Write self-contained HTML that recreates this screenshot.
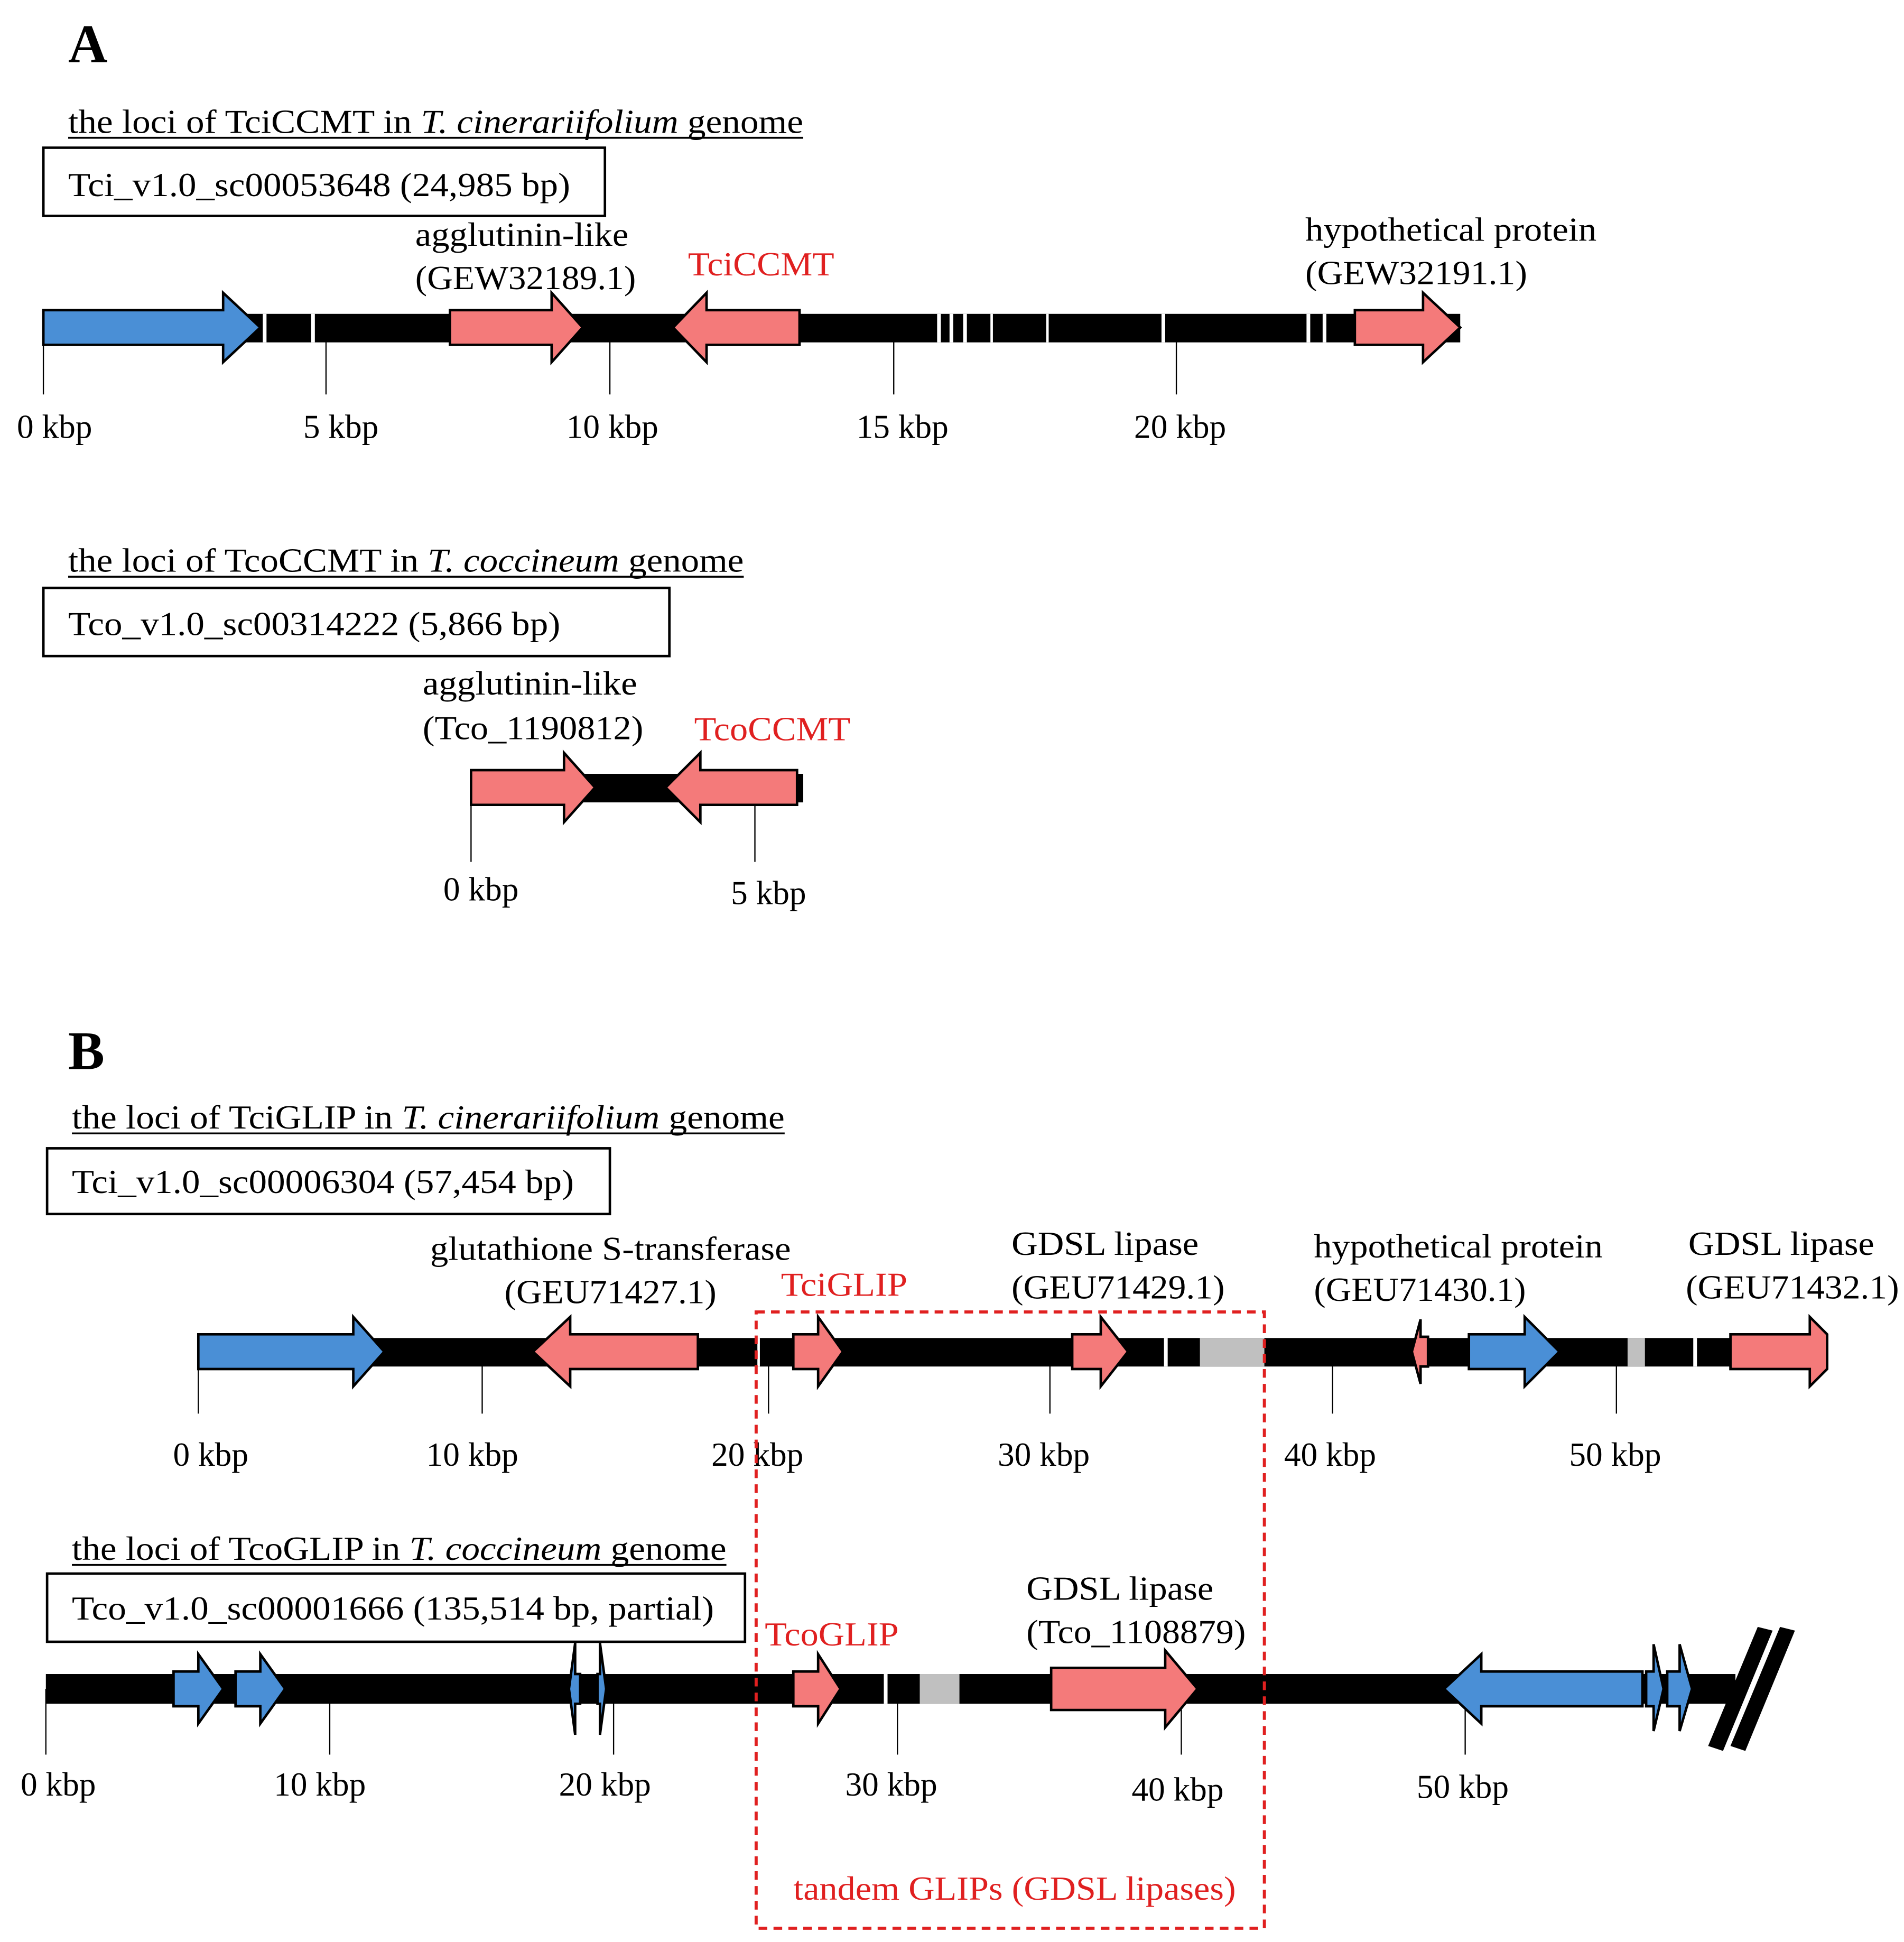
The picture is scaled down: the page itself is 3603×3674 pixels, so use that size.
<!DOCTYPE html>
<html><head><meta charset="utf-8"><style>html,body{margin:0;padding:0;background:#fff}svg{display:block}</style></head>
<body>
<svg width="3603" height="3674" viewBox="0 0 1536 1566" xmlns="http://www.w3.org/2000/svg" font-family="Liberation Serif, serif" font-size="27">
<rect width="1536" height="1566" fill="#fff"/>
<g stroke="#000" stroke-width="1">
<line x1="35" y1="264" x2="35" y2="318"/><line x1="263" y1="264" x2="263" y2="318"/><line x1="492" y1="264" x2="492" y2="318"/><line x1="721" y1="264" x2="721" y2="318"/><line x1="949" y1="264" x2="949" y2="318"/>
<line x1="380" y1="635" x2="380" y2="695"/><line x1="609" y1="635" x2="609" y2="695"/>
<line x1="160" y1="1090" x2="160" y2="1140"/><line x1="389" y1="1090" x2="389" y2="1140"/><line x1="620" y1="1090" x2="620" y2="1140"/><line x1="847" y1="1090" x2="847" y2="1140"/><line x1="1075" y1="1090" x2="1075" y2="1140"/><line x1="1304" y1="1090" x2="1304" y2="1140"/>
<line x1="37" y1="1362" x2="37" y2="1415"/><line x1="266" y1="1362" x2="266" y2="1415"/><line x1="495" y1="1362" x2="495" y2="1415"/><line x1="724" y1="1362" x2="724" y2="1415"/><line x1="953" y1="1362" x2="953" y2="1415"/><line x1="1182" y1="1362" x2="1182" y2="1415"/>
</g>
<!-- A -->
<text x="55" y="50" font-size="44" font-weight="bold">A</text>
<text x="55" y="107" textLength="593" lengthAdjust="spacingAndGlyphs">the loci of TciCCMT in <tspan font-style="italic">T. cinerariifolium</tspan> genome</text>
<line x1="55" y1="111" x2="648" y2="111" stroke="#000" stroke-width="1.5"/>
<rect x="35" y="119" width="453" height="55" fill="none" stroke="#000" stroke-width="2"/>
<text x="55" y="158" textLength="405" lengthAdjust="spacingAndGlyphs">Tci_v1.0_sc00053648 (24,985 bp)</text>
<rect x="35" y="253" width="1143" height="23" fill="#000"/>
<g fill="#fff"><rect x="212" y="253" width="3" height="23"/><rect x="251" y="253" width="3" height="23"/><rect x="756" y="253" width="3" height="23"/><rect x="766" y="253" width="3" height="23"/><rect x="777" y="253" width="3" height="23"/><rect x="799" y="253" width="2" height="23"/><rect x="844" y="253" width="2" height="23"/><rect x="937" y="253" width="3" height="23"/><rect x="1054" y="253" width="3" height="23"/><rect x="1067" y="253" width="3" height="23"/></g>
<g stroke="#000" stroke-width="2">
<polygon fill="#4a8fd6" points="35,250 180,250 180,236 210,264 180,292 180,278 35,278"/>
<polygon fill="#f47a7a" points="363,250 445,250 445,236 470,264 445,292 445,278 363,278"/>
<polygon fill="#f47a7a" points="645,250 570,250 570,236 543,264 570,292 570,278 645,278"/>
<polygon fill="#f47a7a" points="1093,250 1148,250 1148,236 1178,264 1148,292 1148,278 1093,278"/>
</g>
<text x="335" y="198" textLength="172" lengthAdjust="spacingAndGlyphs">agglutinin-like</text><text x="335" y="233" textLength="178" lengthAdjust="spacingAndGlyphs">(GEW32189.1)</text>
<text x="555" y="222" fill="#e02020" textLength="118" lengthAdjust="spacingAndGlyphs">TciCCMT</text>
<text x="1053" y="194" textLength="235" lengthAdjust="spacingAndGlyphs">hypothetical protein</text><text x="1053" y="229" textLength="179" lengthAdjust="spacingAndGlyphs">(GEW32191.1)</text>
<g text-anchor="middle"><text x="44" y="353">0 kbp</text><text x="275" y="353">5 kbp</text><text x="494" y="353">10 kbp</text><text x="728" y="353">15 kbp</text><text x="952" y="353">20 kbp</text></g>

<text x="55" y="461" textLength="545" lengthAdjust="spacingAndGlyphs">the loci of TcoCCMT in <tspan font-style="italic">T. coccineum</tspan> genome</text>
<line x1="55" y1="465" x2="600" y2="465" stroke="#000" stroke-width="1.5"/>
<rect x="35" y="474" width="505" height="55" fill="none" stroke="#000" stroke-width="2"/>
<text x="55" y="512" textLength="397" lengthAdjust="spacingAndGlyphs">Tco_v1.0_sc00314222 (5,866 bp)</text>
<rect x="380" y="624" width="268" height="23" fill="#000"/>
<g stroke="#000" stroke-width="2">
<polygon fill="#f47a7a" points="380,621 455,621 455,607 480,635 455,663 455,649 380,649"/>
<polygon fill="#f47a7a" points="643,621 565,621 565,607 537,635 565,663 565,649 643,649"/>
</g>
<text x="341" y="560" textLength="173" lengthAdjust="spacingAndGlyphs">agglutinin-like</text><text x="341" y="596" textLength="178" lengthAdjust="spacingAndGlyphs">(Tco_1190812)</text>
<text x="560" y="597" fill="#e02020" textLength="126" lengthAdjust="spacingAndGlyphs">TcoCCMT</text>
<g text-anchor="middle"><text x="388" y="726">0 kbp</text><text x="620" y="729">5 kbp</text></g>

<!-- B -->
<text x="55" y="862" font-size="44" font-weight="bold">B</text>
<text x="58" y="910" textLength="575" lengthAdjust="spacingAndGlyphs">the loci of TciGLIP in <tspan font-style="italic">T. cinerariifolium</tspan> genome</text>
<line x1="58" y1="914" x2="633" y2="914" stroke="#000" stroke-width="1.5"/>
<rect x="38" y="926" width="454" height="53" fill="none" stroke="#000" stroke-width="2"/>
<text x="58" y="962" textLength="405" lengthAdjust="spacingAndGlyphs">Tci_v1.0_sc00006304 (57,454 bp)</text>
<rect x="160" y="1079" width="1314" height="23" fill="#000"/>
<g fill="#fff"><rect x="611" y="1079" width="2" height="23"/><rect x="939" y="1079" width="3" height="23"/><rect x="1366" y="1079" width="3" height="23"/></g>
<g fill="#c0c0c0"><rect x="968" y="1079" width="52" height="23"/><rect x="1313" y="1079" width="14" height="23"/></g>
<g stroke="#000" stroke-width="2">
<polygon fill="#4a8fd6" points="160,1076 285,1076 285,1062 310,1090 285,1118 285,1104 160,1104"/>
<polygon fill="#f47a7a" points="563,1076 460,1076 460,1062 430,1090 460,1118 460,1104 563,1104"/>
<polygon fill="#f47a7a" points="640,1076 660,1076 660,1062 680,1090 660,1118 660,1104 640,1104"/>
<polygon fill="#f47a7a" points="865,1076 888,1076 888,1062 910,1090 888,1118 888,1104 865,1104"/>
<polygon fill="#f47a7a" points="1152,1078 1146,1078 1146,1064 1139,1090 1146,1116 1146,1102 1152,1102"/>
<polygon fill="#4a8fd6" points="1185,1076 1230,1076 1230,1062 1258,1090 1230,1118 1230,1104 1185,1104"/>
<polygon fill="#f47a7a" points="1396,1076 1460,1076 1460,1062 1474,1076 1474,1104 1460,1118 1460,1104 1396,1104"/>
</g>
<text x="347" y="1016" textLength="291" lengthAdjust="spacingAndGlyphs">glutathione S-transferase</text><text x="407" y="1051" textLength="171" lengthAdjust="spacingAndGlyphs">(GEU71427.1)</text>
<text x="630" y="1045" fill="#e02020" textLength="102" lengthAdjust="spacingAndGlyphs">TciGLIP</text>
<text x="816" y="1012" textLength="151" lengthAdjust="spacingAndGlyphs">GDSL lipase</text><text x="816" y="1047" textLength="172" lengthAdjust="spacingAndGlyphs">(GEU71429.1)</text>
<text x="1060" y="1014" textLength="233" lengthAdjust="spacingAndGlyphs">hypothetical protein</text><text x="1060" y="1049" textLength="171" lengthAdjust="spacingAndGlyphs">(GEU71430.1)</text>
<text x="1362" y="1012" textLength="150" lengthAdjust="spacingAndGlyphs">GDSL lipase</text><text x="1360" y="1047" textLength="172" lengthAdjust="spacingAndGlyphs">(GEU71432.1)</text>
<g text-anchor="middle"><text x="170" y="1182">0 kbp</text><text x="381" y="1182">10 kbp</text><text x="611" y="1182">20 kbp</text><text x="842" y="1182">30 kbp</text><text x="1073" y="1182">40 kbp</text><text x="1303" y="1182">50 kbp</text></g>

<text x="58" y="1258" textLength="528" lengthAdjust="spacingAndGlyphs">the loci of TcoGLIP in <tspan font-style="italic">T. coccineum</tspan> genome</text>
<line x1="58" y1="1262" x2="586" y2="1262" stroke="#000" stroke-width="1.5"/>
<rect x="38" y="1269" width="563" height="55" fill="none" stroke="#000" stroke-width="2"/>
<text x="58" y="1306" textLength="518" lengthAdjust="spacingAndGlyphs">Tco_v1.0_sc00001666 (135,514 bp, partial)</text>
<rect x="37" y="1350" width="1363" height="24" fill="#000"/>
<rect x="713" y="1350" width="3" height="24" fill="#fff"/>
<rect x="742" y="1350" width="32" height="24" fill="#c0c0c0"/>
<g stroke="#000" stroke-width="2">
<polygon fill="#4a8fd6" points="140,1348 160,1348 160,1334 180,1362 160,1390 160,1376 140,1376"/>
<polygon fill="#4a8fd6" points="190,1348 210,1348 210,1334 230,1362 210,1390 210,1376 190,1376"/>
<polygon fill="#4a8fd6" points="468,1350 464,1350 464,1325 459,1362 464,1399 464,1374 468,1374"/>
<polygon fill="#4a8fd6" points="482,1350 484,1350 484,1325 489,1362 484,1399 484,1374 482,1374"/>
<polygon fill="#f47a7a" points="640,1348 660,1348 660,1334 678,1362 660,1390 660,1376 640,1376"/>
<polygon fill="#f47a7a" points="848,1345 940,1345 940,1331 966,1362 940,1393 940,1379 848,1379"/>
<polygon fill="#4a8fd6" points="1325,1348 1195,1348 1195,1334 1165,1362 1195,1390 1195,1376 1325,1376"/>
<polygon fill="#4a8fd6" points="1328,1348 1334,1348 1334,1326 1342,1362 1334,1396 1334,1376 1328,1376"/>
<polygon fill="#4a8fd6" points="1345,1348 1355,1348 1355,1326 1365,1362 1355,1396 1355,1376 1345,1376"/>
</g>
<polygon fill="#000" points="1418,1312 1430,1315 1390,1412 1378,1408"/>
<polygon fill="#000" points="1436,1312 1448,1315 1408,1412 1396,1408"/>
<text x="617" y="1327" fill="#e02020" textLength="108" lengthAdjust="spacingAndGlyphs">TcoGLIP</text>
<text x="828" y="1290" textLength="151" lengthAdjust="spacingAndGlyphs">GDSL lipase</text><text x="828" y="1325" textLength="177" lengthAdjust="spacingAndGlyphs">(Tco_1108879)</text>
<g text-anchor="middle"><text x="47" y="1448">0 kbp</text><text x="258" y="1448">10 kbp</text><text x="488" y="1448">20 kbp</text><text x="719" y="1448">30 kbp</text><text x="950" y="1452">40 kbp</text><text x="1180" y="1450">50 kbp</text></g>

<rect x="610" y="1058" width="410" height="497" fill="none" stroke="#e02020" stroke-width="2.5" stroke-dasharray="7,5"/>
<text x="640" y="1532" fill="#e02020" textLength="357" lengthAdjust="spacingAndGlyphs">tandem GLIPs (GDSL lipases)</text>
</svg>
</body></html>
